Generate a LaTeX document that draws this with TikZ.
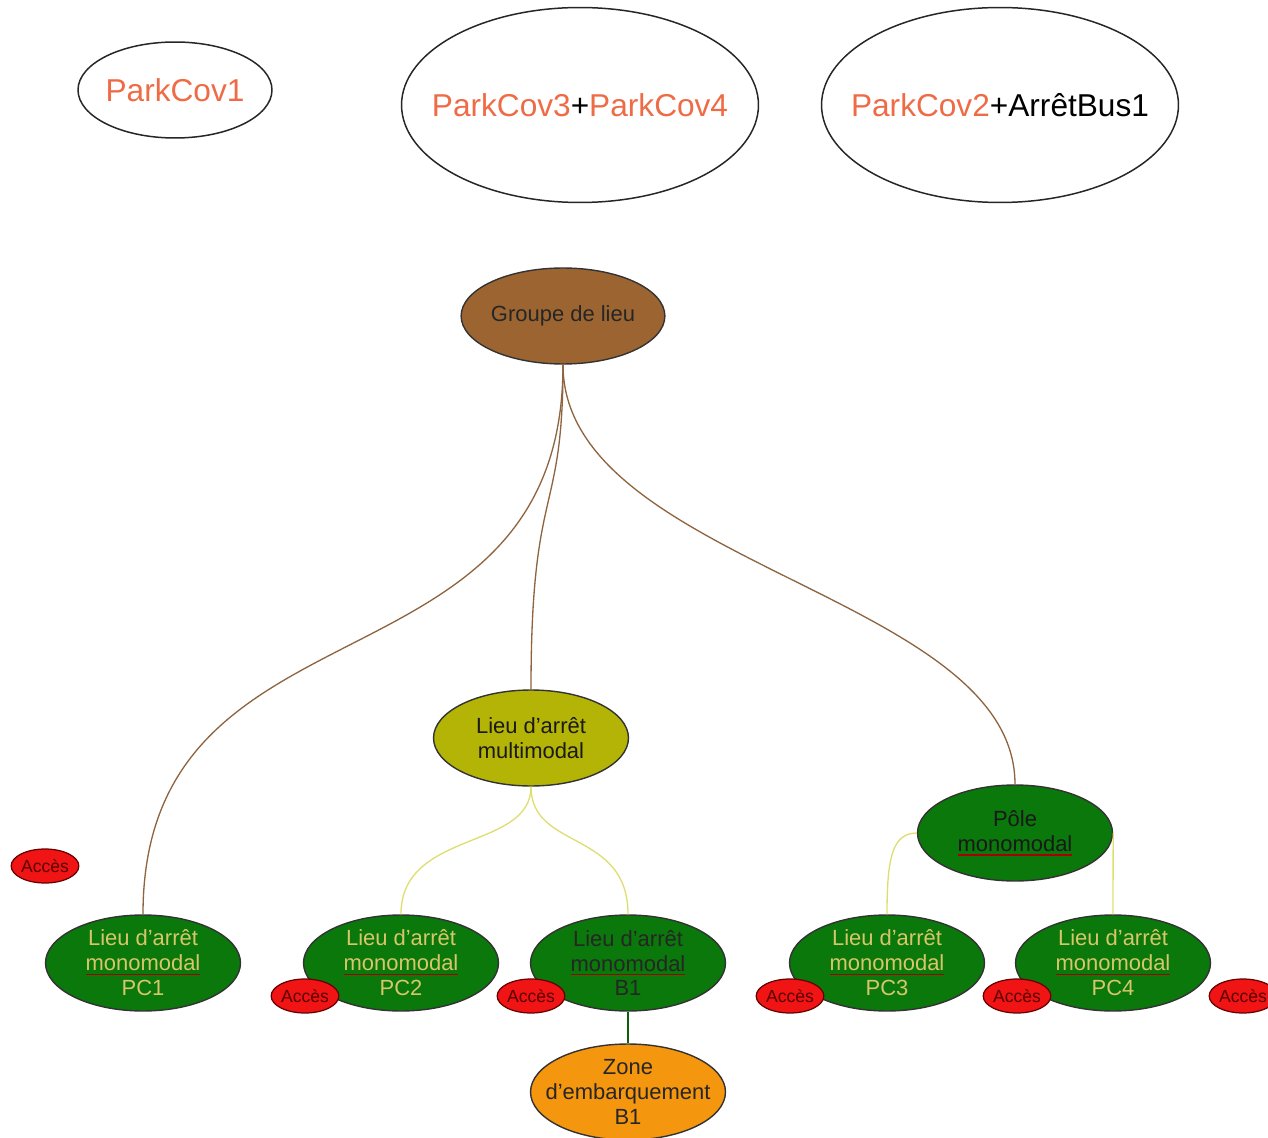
\documentclass[tikz,border=0pt]{standalone}
\usepackage{fontspec}
\setmainfont{Liberation Sans}
\usetikzlibrary{shapes.geometric}
\definecolor{parkorange}{HTML}{EE6B45}
\definecolor{groupbrown}{HTML}{9C6431}
\definecolor{linkbrown}{HTML}{8E6440}
\definecolor{multiolive}{HTML}{B4B406}
\definecolor{monogreen}{HTML}{0A780A}
\definecolor{monotext}{HTML}{D8C66A}
\definecolor{zoneorange}{HTML}{F5960F}
\definecolor{linkyellow}{HTML}{DEDE70}
\definecolor{accesred}{HTML}{F01414}
\newsavebox{\spellbox}
\newcommand{\spell}[1]{\sbox{\spellbox}{#1}\rlap{\textcolor{red!65!black}{\rule[-0.35ex]{\wd\spellbox}{0.6pt}}}\usebox{\spellbox}}
\newcommand{\nowide}[1]{\makebox[0pt]{#1}}
\tikzset{
  park/.style={ellipse, draw=black!85, line width=0.85pt, inner sep=0pt,
    text=parkorange, font=\fontsize{18}{21}\selectfont},
  bigpark/.style={park, minimum width=7.14cm, minimum height=3.9cm},
  lieu/.style={ellipse, draw=black!80, line width=0.8pt, inner sep=0pt,
    minimum width=3.9cm, minimum height=1.92cm, align=center,
    font=\fontsize{12.5}{14.2}\selectfont},
  mono/.style={lieu, fill=monogreen, text=monotext},
  acces/.style={ellipse, draw=red!40!black, line width=0.7pt, fill=accesred,
    minimum width=1.28cm, minimum height=0.68cm, inner sep=0pt,
    text=red!35!black, font=\fontsize{10}{12}\selectfont},
  brownlink/.style={draw=linkbrown, line width=0.75pt},
  yellowlink/.style={draw=linkyellow, line width=0.75pt},
}
\begin{document}
\begin{tikzpicture}[x=0.02cm, y=-0.02cm]
\useasboundingbox (0,0) rectangle (1268,1138);

\node[park, minimum width=3.88cm, minimum height=1.92cm] (park1) at (175,90) {\nowide{ParkCov1}};
\node[bigpark] (park34) at (580,105) {\nowide{ParkCov3\textcolor{black}{+}ParkCov4}};
\node[bigpark] (park2bus) at (1000,105) {\nowide{ParkCov2\textcolor{black}{+ArrêtBus1}}};

\node[lieu, fill=groupbrown, text=black!85] (groupe) at (563,316) {Groupe de lieu};
\node[lieu, fill=multiolive, text=black!90] (multi) at (531,738) {Lieu d'arrêt\\multimodal};
\node[lieu, fill=monogreen, text=black!90] (pole) at (1015,833) {Pôle\\\spell{monomodal}};

\node[mono] (pc1) at (143,963) {Lieu d'arrêt\\\spell{monomodal}\\PC1};
\node[mono] (pc2) at (401,963) {Lieu d'arrêt\\\spell{monomodal}\\PC2};
\node[mono, text=black!85] (b1) at (628,963) {Lieu d'arrêt\\\spell{monomodal}\\B1};
\node[mono] (pc3) at (887,963) {Lieu d'arrêt\\\spell{monomodal}\\PC3};
\node[mono] (pc4) at (1113,963) {Lieu d'arrêt\\\spell{monomodal}\\PC4};
\node[lieu, fill=zoneorange, text=black!85, inner xsep=-8pt] (zone) at (628,1092) {Zone\\d'embarquement\\B1};

\node[acces] (acces0) at (45,866) {Accès};
\node[acces] (acces1) at (305,996) {Accès};
\node[acces] (acces2) at (531,996) {Accès};
\node[acces] (acces3) at (790,996) {Accès};
\node[acces] (acces4) at (1017,996) {Accès};
\node[acces] (acces5) at (1243,996) {Accès};

\draw[brownlink] (groupe.south) .. controls +(0,340) and +(0,-330) .. (pc1.north);
\draw[brownlink] (groupe.south) .. controls +(0,156) and +(0,-210) .. (multi.north);
\draw[brownlink] (groupe.south) .. controls +(0,200) and +(0,-190) .. (pole.north);

\draw[yellowlink] (multi.south) .. controls +(0,64) and +(0,-85) .. (pc2.north);
\draw[yellowlink] (multi.south) .. controls +(0,64) and +(0,-85) .. (b1.north);
\draw[yellowlink] (pole.west) .. controls +(-25,0) and +(0,-55) .. (pc3.north);
\draw[yellowlink] (pole.east) -- (pc4.north);

\draw[draw=monogreen!80!black, line width=0.75pt] (b1.south) -- (zone.north);
\end{tikzpicture}
\end{document}
